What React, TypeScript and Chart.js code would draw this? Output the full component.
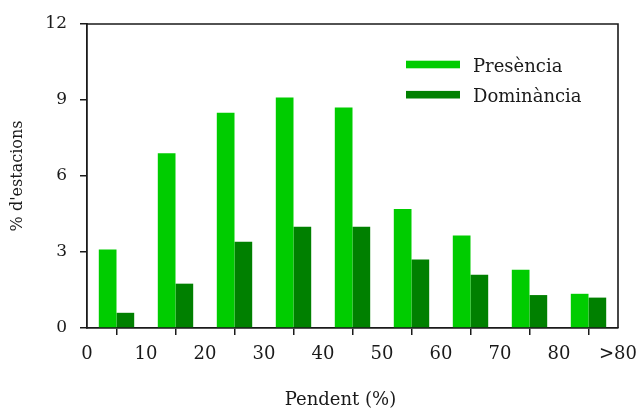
import React, { useEffect, useRef } from 'react';
import { Chart, registerables } from 'chart.js';

Chart.register(...registerables);

// Tick labels on the x-axis boundaries (slope classes)
const xTickLabels = ['0', '10', '20', '30', '40', '50', '60', '70', '80', '>80'];
// Categories (slope classes, %)
const categories = ['0-10', '10-20', '20-30', '30-40', '40-50', '50-60', '60-70', '70-80', '>80'];
// Series values (% d'estacions)
const presencia = [3.1, 6.9, 8.5, 9.1, 8.7, 4.7, 3.65, 2.3, 1.35];
const dominancia = [0.6, 1.75, 3.4, 4.0, 4.0, 2.7, 2.1, 1.3, 1.2];
const seriesLabels = ['Presència', 'Dominància'];
const seriesColors = ['#00CC00', '#008000'];
const yMin = 0;
const yMax = 12;
const yStep = 3;
const xTitle = 'Pendent (%)';
const yTitle = "% d'estacions";

const FONT = '"DejaVu Serif", serif';
const INK = '#1a1a1a';

const framePlugin = {
  id: 'frame',
  afterDatasetsDraw(chart: any) {
    const { ctx, chartArea } = chart;
    const { left, right, top, bottom } = chartArea;
    ctx.save();
    ctx.strokeStyle = INK;
    ctx.lineWidth = 1.6;
    ctx.beginPath();
    ctx.moveTo(left, top);
    ctx.lineTo(right, top);
    ctx.lineTo(right, bottom);
    ctx.stroke();
    ctx.restore();
  },
};

const xTitlePlugin = {
  id: 'xTitle',
  afterDraw(chart: any) {
    const { ctx, chartArea } = chart;
    ctx.save();
    ctx.font = `18px ${FONT}`;
    ctx.fillStyle = INK;
    ctx.textAlign = 'center';
    ctx.textBaseline = 'middle';
    ctx.fillText(xTitle, (chartArea.left + chartArea.right) / 2 - 12, chartArea.bottom + 72);
    ctx.restore();
  },
};

const legendPlugin = {
  id: 'innerLegend',
  afterDraw(chart: any) {
    const { ctx, chartArea } = chart;
    const { left, top } = chartArea;
    ctx.save();
    ctx.font = `18px ${FONT}`;
    ctx.textBaseline = 'alphabetic';
    ctx.textAlign = 'left';
    chart.data.datasets.forEach((ds: any, i: number) => {
      const cy = top + 40.5 + i * 30.2;
      ctx.fillStyle = ds.backgroundColor;
      ctx.fillRect(left + 319, cy - 3.8, 54, 7.6);
      ctx.fillStyle = INK;
      ctx.fillText(ds.label, left + 386, cy + 7.5);
    });
    ctx.restore();
  },
};

export default function App() {
  const ref = useRef<HTMLCanvasElement | null>(null);

  useEffect(() => {
    if (!ref.current) return;
    const chart = new Chart(ref.current, {
      type: 'bar',
      data: {
        labels: categories,
        datasets: [
          {
            label: seriesLabels[0],
            data: presencia.map((v, i) => ({ x: i + 0.5, y: v })),
            backgroundColor: seriesColors[0],
            borderWidth: 0,
            categoryPercentage: 0.6,
            barPercentage: 1.0,
          },
          {
            label: seriesLabels[1],
            data: dominancia.map((v, i) => ({ x: i + 0.5, y: v })),
            backgroundColor: seriesColors[1],
            borderWidth: 0,
            categoryPercentage: 0.6,
            barPercentage: 1.0,
          },
        ],
      },
      options: {
        responsive: false,
        animation: false,
        devicePixelRatio: 1,
        layout: { padding: { top: 24, right: 21, left: 0, bottom: 0 } },
        plugins: {
          legend: { display: false },
          tooltip: { enabled: false },
          title: { display: false },
        },
        scales: {
          x: {
            type: 'linear',
            min: 0,
            max: xTickLabels.length - 1,
            offset: false,
            afterFit(scale: any) {
              scale.height = 86;
              scale.paddingLeft = 0;
              scale.paddingRight = 0;
            },
            ticks: {
              stepSize: 1,
              autoSkip: false,
              maxRotation: 0,
              padding: 9,
              color: INK,
              font: { family: FONT, size: 18 },
              callback: (v: any) => xTickLabels[Math.round(Number(v))] ?? '',
            },
            grid: {
              display: true,
              drawOnChartArea: false,
              drawTicks: true,
              tickLength: 7,
              color: INK,
              lineWidth: 1.5,
            },
            border: { display: true, color: INK, width: 1.8 },
            title: { display: false },
          },
          y: {
            min: yMin,
            max: yMax,
            afterFit(scale: any) {
              scale.width = 87;
            },
            ticks: {
              stepSize: yStep,
              padding: 13,
              color: INK,
              font: { family: FONT, size: 17 },
            },
            grid: {
              display: true,
              drawOnChartArea: false,
              drawTicks: true,
              tickLength: 7,
              color: INK,
              lineWidth: 1.5,
            },
            border: { display: true, color: INK, width: 1.8 },
            title: {
              display: true,
              text: yTitle,
              color: INK,
              font: { family: FONT, size: 16 },
              padding: { top: 8, bottom: 0 },
            },
          },
        },
      },
      plugins: [framePlugin, legendPlugin, xTitlePlugin],
    } as any);
    return () => chart.destroy();
  }, []);

  return (
    <div style={{ position: 'fixed', left: 0, top: 0, width: 639, height: 414, background: '#fff' }}>
      <canvas ref={ref} width={639} height={414} style={{ display: 'block', width: 639, height: 414 }} />
    </div>
  );
}
